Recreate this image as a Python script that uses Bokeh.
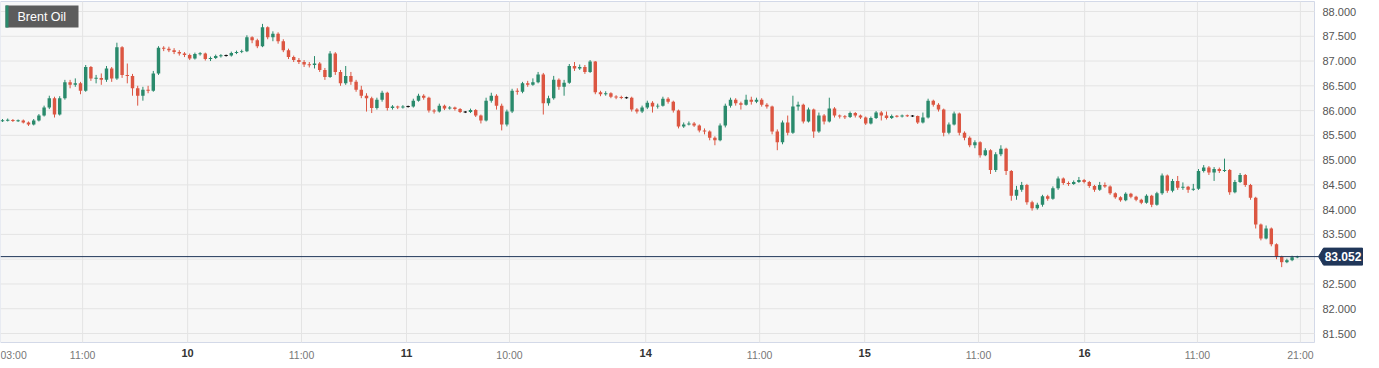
from bokeh.plotting import figure
from bokeh.models import FixedTicker, Range1d, NumeralTickFormatter, ColumnDataSource, LinearAxis
from bokeh.embed import file_html
from bokeh.resources import INLINE
from bokeh.core.properties import value

# ---------------- data ----------------
opens = [
    85.79, 85.80, 85.81, 85.79, 85.80, 85.76, 85.72, 85.80, 85.90, 86.06,
    86.25, 85.92, 86.25, 86.57, 86.52, 86.55, 86.40, 86.88, 86.65, 86.66,
    86.62, 86.85, 86.65, 87.28, 86.72, 86.70, 86.45, 86.30, 86.42, 86.40,
    86.75, 87.27, 87.25, 87.22, 87.18, 87.15, 87.12, 87.05, 87.14, 87.15,
    87.04, 87.06, 87.10, 87.11, 87.11, 87.16, 87.18, 87.20, 87.48, 87.42,
    87.30, 87.68, 87.48, 87.55, 87.40, 87.22, 87.08, 87.02, 86.98, 86.93,
    86.92, 86.95, 86.82, 86.68, 87.15, 86.78, 86.55, 86.70, 86.58, 86.42,
    86.30, 86.25, 86.05, 86.22, 86.36, 86.05, 86.08, 86.06, 86.08, 86.08,
    86.20, 86.30, 86.26, 86.00, 85.98, 86.10, 86.04, 86.06, 86.03, 85.97,
    85.97, 86.01, 85.90, 85.80, 86.20, 86.30, 86.10, 85.72, 85.98, 86.40,
    86.38, 86.55, 86.52, 86.57, 86.73, 86.15, 86.25, 86.62, 86.48, 86.56,
    86.90, 86.85, 86.88, 86.78, 86.99, 86.37, 86.33, 86.35, 86.28, 86.27,
    86.26, 86.26, 86.02, 85.98, 86.06, 86.16, 86.08, 86.10, 86.24, 86.18,
    86.00, 85.68, 85.72, 85.74, 85.70, 85.60, 85.58, 85.45, 85.40, 85.70,
    86.10, 86.22, 86.15, 86.12, 86.22, 86.18, 86.22, 86.12, 86.08, 85.58,
    85.36, 85.76, 85.55, 86.08, 86.12, 85.78, 86.02, 85.58, 85.90, 85.78,
    86.04, 85.90, 85.88, 85.87, 85.95, 85.90, 85.86, 85.74, 85.85, 85.96,
    85.90, 85.85, 85.89, 85.88, 85.90, 85.89, 85.89, 85.76, 85.86, 86.20,
    86.12, 86.02, 85.55, 85.72, 85.94, 85.55, 85.45, 85.30, 85.36, 85.10,
    85.20, 84.80, 85.12, 85.23, 84.78, 84.28, 84.40, 84.50, 84.15, 84.03,
    84.10, 84.27, 84.22, 84.43, 84.63, 84.54, 84.52, 84.56, 84.60, 84.56,
    84.48, 84.40, 84.50, 84.47, 84.33, 84.25, 84.19, 84.32, 84.26, 84.20,
    84.14, 84.28, 84.10, 84.33, 84.69, 84.38, 84.58, 84.44, 84.46, 84.40,
    84.42, 84.78, 84.85, 84.75, 84.82, 84.78, 84.80, 84.35, 84.56, 84.70,
    84.50, 84.24, 83.70, 83.42, 83.62, 83.30, 83.05, 82.94, 82.98, 83.04,
]
closes = [
    85.80, 85.81, 85.79, 85.80, 85.76, 85.72, 85.80, 85.90, 86.06, 86.25,
    85.92, 86.25, 86.57, 86.52, 86.55, 86.40, 86.88, 86.65, 86.66, 86.62,
    86.85, 86.65, 87.28, 86.72, 86.70, 86.45, 86.30, 86.42, 86.40, 86.75,
    87.27, 87.25, 87.22, 87.18, 87.15, 87.12, 87.05, 87.14, 87.15, 87.04,
    87.06, 87.10, 87.11, 87.11, 87.16, 87.18, 87.20, 87.48, 87.42, 87.30,
    87.68, 87.48, 87.55, 87.40, 87.22, 87.08, 87.02, 86.98, 86.93, 86.92,
    86.95, 86.82, 86.68, 87.15, 86.78, 86.55, 86.70, 86.58, 86.42, 86.30,
    86.25, 86.05, 86.22, 86.36, 86.05, 86.08, 86.06, 86.08, 86.08, 86.20,
    86.30, 86.26, 86.00, 85.98, 86.10, 86.04, 86.06, 86.03, 85.97, 85.97,
    86.01, 85.90, 85.80, 86.20, 86.30, 86.10, 85.72, 85.98, 86.40, 86.38,
    86.55, 86.52, 86.57, 86.73, 86.15, 86.25, 86.62, 86.48, 86.56, 86.90,
    86.85, 86.88, 86.78, 86.99, 86.37, 86.33, 86.35, 86.28, 86.27, 86.26,
    86.26, 86.02, 85.98, 86.06, 86.16, 86.08, 86.10, 86.24, 86.18, 86.00,
    85.68, 85.72, 85.74, 85.70, 85.60, 85.58, 85.45, 85.40, 85.70, 86.10,
    86.22, 86.15, 86.12, 86.22, 86.18, 86.22, 86.12, 86.08, 85.58, 85.36,
    85.76, 85.55, 86.08, 86.12, 85.78, 86.02, 85.58, 85.90, 85.78, 86.04,
    85.90, 85.88, 85.87, 85.95, 85.90, 85.86, 85.74, 85.85, 85.96, 85.90,
    85.85, 85.89, 85.88, 85.90, 85.89, 85.89, 85.76, 85.86, 86.20, 86.12,
    86.02, 85.55, 85.72, 85.94, 85.55, 85.45, 85.30, 85.36, 85.10, 85.20,
    84.80, 85.12, 85.23, 84.78, 84.28, 84.40, 84.50, 84.15, 84.03, 84.10,
    84.27, 84.22, 84.43, 84.63, 84.54, 84.52, 84.56, 84.60, 84.56, 84.48,
    84.40, 84.50, 84.47, 84.33, 84.25, 84.19, 84.32, 84.26, 84.20, 84.14,
    84.28, 84.10, 84.33, 84.69, 84.38, 84.58, 84.44, 84.46, 84.40, 84.42,
    84.78, 84.85, 84.75, 84.82, 84.78, 84.80, 84.35, 84.56, 84.70, 84.50,
    84.24, 83.70, 83.42, 83.62, 83.30, 83.05, 82.94, 82.98, 83.04, 83.052,
]
highs = [
    85.83, 85.84, 85.83, 85.82, 85.82, 85.78, 85.83, 85.93, 86.10, 86.30,
    86.28, 86.29, 86.62, 86.62, 86.65, 86.58, 86.92, 86.90, 86.72, 86.75,
    86.90, 86.88, 87.37, 87.30, 86.95, 86.74, 86.50, 86.48, 86.50, 86.80,
    87.30, 87.30, 87.29, 87.26, 87.22, 87.18, 87.15, 87.17, 87.18, 87.17,
    87.09, 87.13, 87.14, 87.13, 87.19, 87.21, 87.23, 87.52, 87.50, 87.45,
    87.75, 87.70, 87.60, 87.58, 87.44, 87.25, 87.11, 87.06, 87.02, 86.98,
    87.10, 86.98, 86.86, 87.20, 87.18, 86.82, 86.90, 86.78, 86.62, 86.50,
    86.35, 86.28, 86.26, 86.40, 86.38, 86.11, 86.10, 86.11, 86.10, 86.24,
    86.34, 86.33, 86.28, 86.03, 86.14, 86.12, 86.09, 86.08, 86.05, 85.99,
    86.04, 86.03, 85.92, 86.26, 86.36, 86.33, 86.14, 86.02, 86.44, 86.45,
    86.58, 86.60, 86.65, 86.78, 86.76, 86.30, 86.70, 86.65, 86.62, 86.94,
    86.98, 86.93, 86.92, 87.02, 87.00, 86.40, 86.39, 86.37, 86.31, 86.30,
    86.28, 86.28, 86.05, 86.10, 86.20, 86.19, 86.14, 86.28, 86.27, 86.20,
    86.02, 85.76, 85.78, 85.77, 85.72, 85.64, 85.60, 85.48, 85.74, 86.14,
    86.26, 86.25, 86.18, 86.32, 86.28, 86.26, 86.25, 86.15, 86.10, 85.62,
    85.80, 85.90, 86.30, 86.18, 86.14, 86.06, 86.04, 85.96, 85.93, 86.26,
    86.07, 85.92, 85.91, 85.98, 85.97, 85.92, 85.88, 85.88, 85.99, 85.99,
    85.98, 85.92, 85.91, 85.92, 85.92, 85.91, 85.90, 85.96, 86.24, 86.22,
    86.15, 86.04, 85.76, 85.98, 85.96, 85.58, 85.48, 85.40, 85.38, 85.24,
    85.22, 85.16, 85.30, 85.25, 84.80, 84.48, 84.56, 84.52, 84.18, 84.14,
    84.30, 84.30, 84.47, 84.67, 84.65, 84.57, 84.59, 84.66, 84.62, 84.58,
    84.50, 84.56, 84.55, 84.49, 84.35, 84.27, 84.35, 84.34, 84.28, 84.22,
    84.31, 84.30, 84.36, 84.73, 84.71, 84.62, 84.68, 84.55, 84.48, 84.52,
    84.82, 84.90, 84.88, 84.86, 84.85, 85.03, 84.82, 84.60, 84.74, 84.72,
    84.52, 84.26, 83.72, 83.68, 83.64, 83.32, 83.07, 83.01, 83.07, 83.07,
]
lows = [
    85.77, 85.78, 85.77, 85.77, 85.74, 85.69, 85.70, 85.78, 85.88, 86.03,
    85.86, 85.90, 86.22, 86.45, 86.48, 86.33, 86.38, 86.60, 86.55, 86.52,
    86.58, 86.58, 86.62, 86.66, 86.55, 86.30, 86.10, 86.20, 86.35, 86.38,
    86.72, 87.20, 87.18, 87.14, 87.11, 87.08, 87.02, 87.03, 87.11, 87.01,
    87.00, 87.04, 87.07, 87.09, 87.09, 87.14, 87.16, 87.18, 87.36, 87.26,
    87.28, 87.44, 87.40, 87.35, 87.18, 87.04, 86.98, 86.94, 86.88, 86.87,
    86.85, 86.78, 86.62, 86.66, 86.72, 86.50, 86.52, 86.52, 86.38, 86.25,
    85.98, 85.95, 86.02, 86.18, 86.00, 86.02, 86.03, 86.04, 86.06, 86.06,
    86.18, 86.22, 85.96, 85.94, 85.96, 86.01, 86.02, 86.00, 85.95, 85.95,
    85.95, 85.87, 85.74, 85.78, 86.16, 86.02, 85.60, 85.68, 85.95, 86.32,
    86.35, 86.48, 86.50, 86.55, 85.92, 86.10, 86.22, 86.42, 86.30, 86.54,
    86.80, 86.82, 86.74, 86.76, 86.33, 86.29, 86.30, 86.25, 86.23, 86.23,
    86.24, 85.98, 85.94, 85.95, 86.03, 85.96, 86.04, 86.08, 86.14, 85.96,
    85.64, 85.65, 85.70, 85.67, 85.56, 85.52, 85.40, 85.30, 85.38, 85.66,
    86.06, 86.10, 86.02, 86.10, 86.12, 86.15, 86.08, 86.04, 85.52, 85.20,
    85.32, 85.50, 85.53, 86.00, 85.74, 85.76, 85.45, 85.55, 85.72, 85.76,
    85.86, 85.84, 85.83, 85.85, 85.86, 85.83, 85.71, 85.72, 85.83, 85.80,
    85.82, 85.83, 85.86, 85.86, 85.87, 85.87, 85.73, 85.74, 85.84, 86.08,
    85.98, 85.48, 85.52, 85.70, 85.50, 85.40, 85.26, 85.24, 85.05, 85.08,
    84.72, 84.76, 85.08, 84.70, 84.18, 84.20, 84.36, 84.10, 83.98, 84.00,
    84.06, 84.18, 84.20, 84.40, 84.50, 84.48, 84.50, 84.54, 84.53, 84.44,
    84.36, 84.38, 84.44, 84.30, 84.22, 84.16, 84.17, 84.23, 84.17, 84.11,
    84.12, 84.05, 84.08, 84.30, 84.34, 84.35, 84.40, 84.40, 84.34, 84.38,
    84.40, 84.75, 84.70, 84.58, 84.74, 84.76, 84.30, 84.33, 84.54, 84.46,
    84.20, 83.62, 83.38, 83.40, 83.26, 83.00, 82.84, 82.92, 82.96, 83.02,
]

y_ticks = [81.5, 82.0, 82.5, 83.0, 83.5, 84.0, 84.5, 85.0, 85.5, 86.0, 86.5, 87.0, 87.5, 88.0]
time_tick_pos = [2.1, 15.4, 57.5, 97.5, 145.6, 187.7, 229.8, 249.6]
time_tick_labels = ["03:00", "11:00", "11:00", "10:00", "11:00", "11:00", "11:00", "21:00"]
day_tick_pos = [35.6, 77.7, 123.7, 165.8, 208.1]
day_tick_labels = ["10", "11", "14", "15", "16"]
last_price = 83.052
instrument = "Brent Oil"

# ---------------- layout constants (pixels) ----------------
W, H = 1371, 360
PITCH = 5.2          # px per candle
PX_PER_UNIT = 49.54  # px per 1.0 of price
AREA_R = 1314        # right edge of plotting area (px)
AREA_T, AREA_B = 1, 342

X0 = -2 / PITCH
X1 = X0 + W / PITCH
Y_TOP = 88.0 + 11 / PX_PER_UNIT
Y_BOT = Y_TOP - H / PX_PER_UNIT

def dx(px):  # pixel offset -> data units (x)
    return px / PITCH

def dy(px):  # pixel offset -> data units (y)
    return px / PX_PER_UNIT

AX_R = X0 + dx(AREA_R)
AY_T = Y_TOP - dy(AREA_T)
AY_B = Y_TOP - dy(AREA_B)

GREEN = "#2a8a6c"
RED = "#dc5642"
NAVY = "#203659"
GRID = "#e4e4e4"
FONT = "Liberation Sans"

p = figure(width=W, height=H, output_backend="svg", toolbar_location=None,
           x_range=Range1d(X0, X1), y_range=Range1d(Y_BOT, Y_TOP),
           x_axis_location=None, y_axis_location=None,
           min_border=0, min_border_left=0, min_border_right=0,
           min_border_top=0, min_border_bottom=0)
p.background_fill_color = "#ffffff"
p.border_fill_color = "#ffffff"
p.outline_line_color = None
p.grid.visible = False

# plotting area background + border
p.quad(left=[X0], right=[AX_R], bottom=[AY_B], top=[AY_T],
       fill_color="#f7f7f7", line_color="#d3d9e8", line_width=1)

# grid lines (from the tick lists)
gx = sorted(time_tick_pos[1:] + day_tick_pos)
p.segment(x0=gx, y0=[AY_B] * len(gx), x1=gx, y1=[AY_T] * len(gx),
          line_color=GRID, line_width=1)
p.segment(x0=[X0] * len(y_ticks), y0=y_ticks, x1=[AX_R] * len(y_ticks), y1=y_ticks,
          line_color=GRID, line_width=1)

def plain(ax):
    ax.axis_line_color = None
    ax.major_tick_line_color = None
    ax.minor_tick_line_color = None
    ax.major_tick_in = 0
    ax.major_tick_out = 0
    ax.minor_tick_in = 0
    ax.minor_tick_out = 0

# y axis at the right edge of the plotting area (83.000 hidden by price tag)
ya = LinearAxis(fixed_location=AX_R)
plain(ya)
ya.ticker = FixedTicker(ticks=[t for t in y_ticks if abs(t - 83.0) > 1e-9])
ya.formatter = NumeralTickFormatter(format="0.000")
ya.major_label_standoff = 8
ya.major_label_text_font = FONT
ya.major_label_text_font_size = "11px"
ya.major_label_text_color = "#555555"
p.add_layout(ya, "right")

# x axis (time labels) at the bottom edge of the plotting area
xa = LinearAxis(fixed_location=AY_B)
plain(xa)
xa.ticker = FixedTicker(ticks=time_tick_pos)
xa.major_label_overrides = {pos: lab for pos, lab in zip(time_tick_pos, time_tick_labels)}
xa.major_label_standoff = 6
xa.major_label_text_font = FONT
xa.major_label_text_font_size = "10.5px"
xa.major_label_text_color = "#777777"
p.add_layout(xa, "below")

# x axis (bold day labels)
da = LinearAxis(fixed_location=AY_B)
plain(da)
da.ticker = FixedTicker(ticks=day_tick_pos)
da.major_label_overrides = {pos: lab for pos, lab in zip(day_tick_pos, day_tick_labels)}
da.major_label_standoff = 6
da.major_label_text_font = FONT
da.major_label_text_font_size = "11px"
da.major_label_text_font_style = "bold"
da.major_label_text_color = "#333333"
p.add_layout(da, "below")

# candles
idx = list(range(len(closes)))
colors, tops, bottoms = [], [], []
for o, c in zip(opens, closes):
    colors.append(GREEN if c > o else (RED if c < o else "#111111"))
    lo_b, hi_b = min(o, c), max(o, c)
    if hi_b - lo_b < 0.02:
        mid = (hi_b + lo_b) / 2
        lo_b, hi_b = mid - 0.01, mid + 0.01
    tops.append(hi_b)
    bottoms.append(lo_b)
src = ColumnDataSource(dict(x=idx, o=opens, h=highs, l=lows, c=closes,
                            top=tops, bottom=bottoms, color=colors))
p.segment(x0="x", y0="l", x1="x", y1="h", source=src, line_color="color", line_width=1)
p.vbar(x="x", width=0.66, top="top", bottom="bottom", source=src,
       fill_color="color", line_color=None)

# last price line + tag
p.segment(x0=[X0], y0=[last_price], x1=[AX_R + dx(4)], y1=[last_price],
          line_color=NAVY, line_width=1)
tl, tr = AX_R + dx(9), AX_R + dx(48)
th = dy(8.5)
p.patch(x=[AX_R + dx(4), tl, tr, tr, tl],
        y=[last_price, last_price + th, last_price + th, last_price - th, last_price - th],
        fill_color=NAVY, line_color=NAVY)
p.text(x=[(tl + tr) / 2], y=[last_price], text=[f"{last_price:.3f}"], text_align="center",
       text_baseline="middle", text_font=value(FONT), text_font_size="12px",
       text_font_style="bold", text_color="white")

# instrument badge
bx0, bx1 = X0 + dx(5), X0 + dx(78)
by0, by1 = Y_TOP - dy(27), Y_TOP - dy(5)
p.quad(left=[bx0], right=[bx1], bottom=[by0], top=[by1], fill_color="#5c5c5c", line_color=None)
p.quad(left=[bx0], right=[X0 + dx(8)], bottom=[by0], top=[by1], fill_color=GREEN, line_color=None)
p.text(x=[X0 + dx(17)], y=[(by0 + by1) / 2], text=[instrument], text_align="left",
       text_baseline="middle", text_font=value(FONT), text_font_size="12.5px",
       text_color="white")

open("out.html", "w").write(file_html(p, INLINE))
